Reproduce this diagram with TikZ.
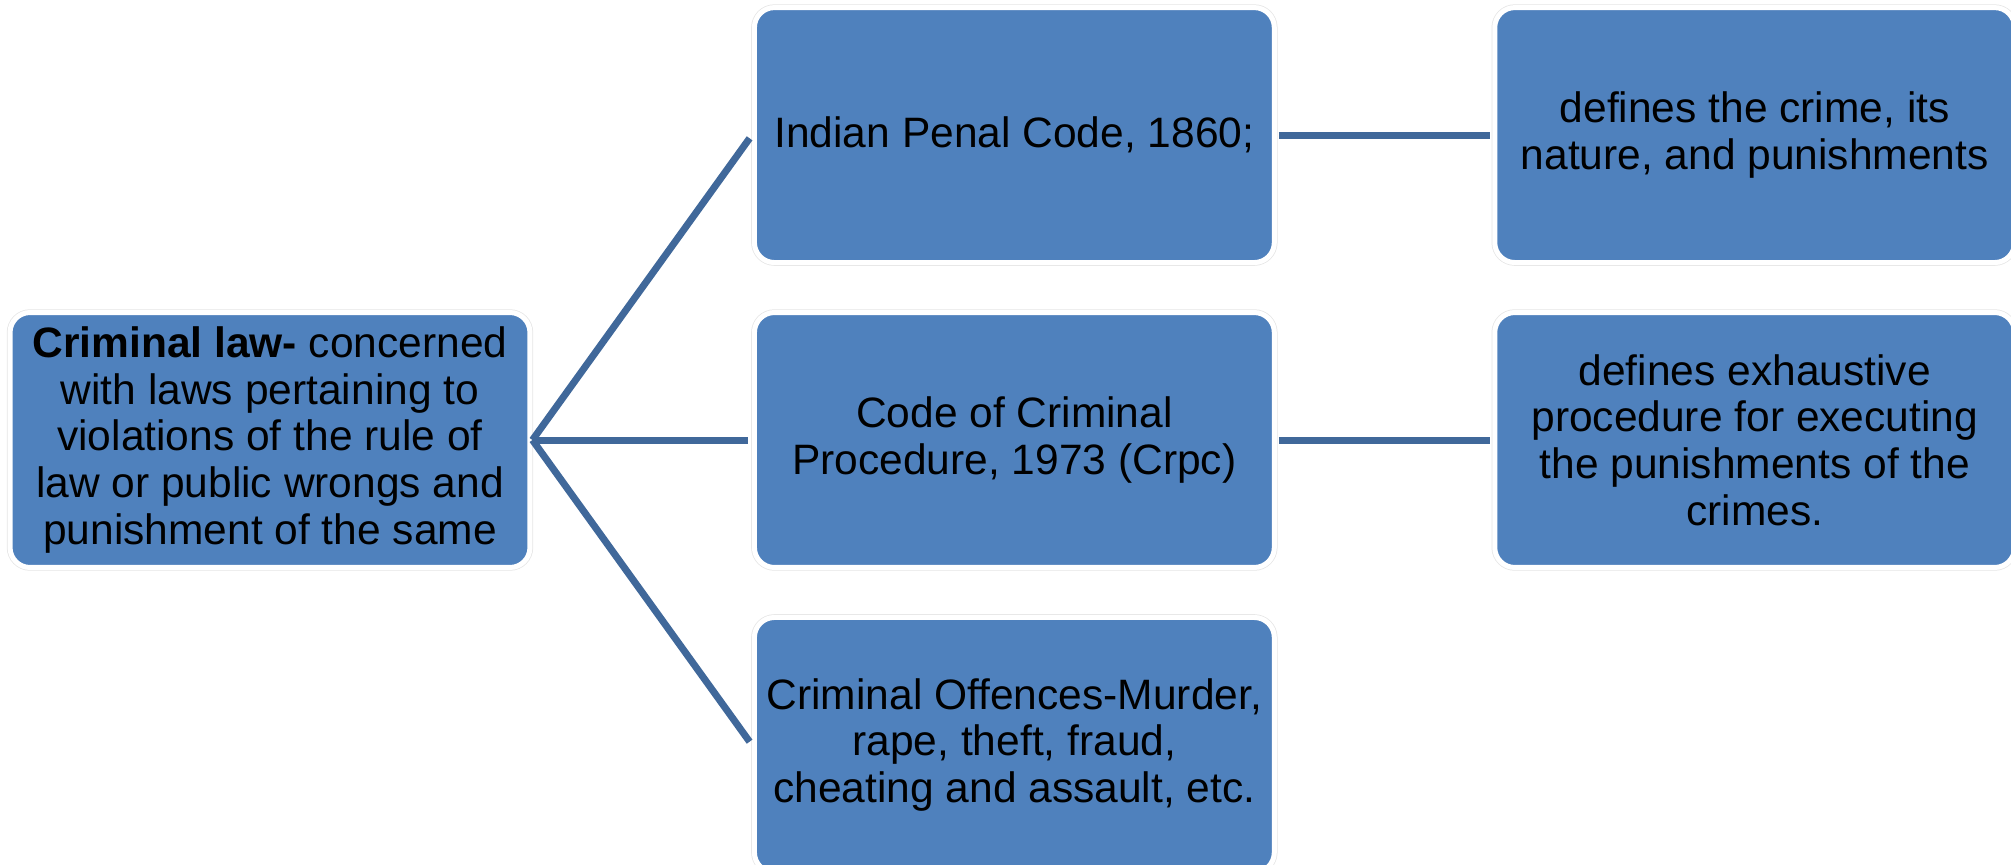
\documentclass[tikz,border=0pt]{standalone}
\usepackage{fontspec}
\setmainfont{Liberation Sans}
\usetikzlibrary{positioning}
\definecolor{boxblue}{RGB}{79,129,189}
\definecolor{linkblue}{RGB}{64,104,154}

\begin{document}
\begin{tikzpicture}[x=0.02cm,y=-0.02cm]
    \tikzstyle{lawbox} = [rectangle,rounded corners=0.4cm,fill=boxblue,draw=white,line width=0.1cm,preaction={draw=black!10,line width=0.13cm},minimum width=10.4cm,minimum height=5.1cm,align=center,font=\fontsize{24.2}{26.5}\selectfont]
    %\tikzstyle{note} = [draw=none,fill=none]
    \tikzstyle{mylink} = [draw=linkblue,line width=0.14cm]
    \useasboundingbox (0,0) rectangle (2011,865);
    \node[lawbox] (crim) at (270,440) {\textbf{Criminal law-} concerned\\with laws pertaining to\\violations of the rule of\\law or public wrongs and\\punishment of the same};
    \node[lawbox] (crpc) [right = 4.39cm of crim] {Code of Criminal\\Procedure, 1973 (Crpc)};
    \node[lawbox] (ipc) [above = 0.9cm of crpc] {Indian Penal Code, 1860;};
    \node[lawbox] (offs) [below = 0.9cm of crpc] {Criminal Offences-Murder,\\rape, theft, fraud,\\cheating and assault, etc.};
    \node[lawbox] (def1) [right = 4.31cm of ipc] {defines the crime, its\\nature, and punishments};
    \node[lawbox] (def2) [right = 4.31cm of crpc] {defines exhaustive\\procedure for executing\\the punishments of the\\crimes.};
    \coordinate (hub) at (crim.east);
    \draw[mylink,shorten >=0.08cm] (hub) -- (ipc.west);
    \draw[mylink,shorten >=0.08cm] (hub) -- (crpc.west);
    \draw[mylink,shorten >=0.08cm] (hub) -- (offs.west);
    \draw[mylink,shorten <=0.04cm,shorten >=0.04cm] (ipc.east) -- (def1.west);
    \draw[mylink,shorten <=0.04cm,shorten >=0.04cm] (crpc.east) -- (def2.west);
\end{tikzpicture}
\end{document}
